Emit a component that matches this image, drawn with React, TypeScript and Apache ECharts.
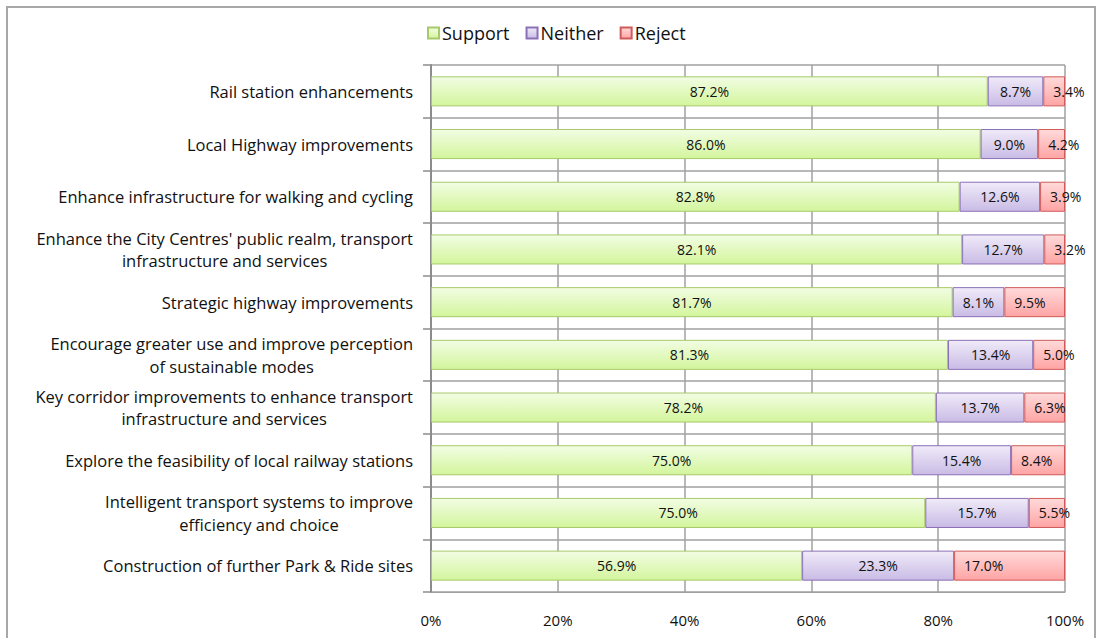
import React, { useEffect, useRef } from "react";
import * as echarts from "echarts";

const categories = [
  "Rail station enhancements",
  "Local Highway improvements",
  "Enhance infrastructure for walking and cycling",
  "Enhance the City Centres' public realm, transport\ninfrastructure and services",
  "Strategic highway improvements",
  "Encourage greater use and improve perception\nof sustainable modes",
  "Key corridor improvements to enhance transport\ninfrastructure and services",
  "Explore the feasibility of local railway stations",
  "Intelligent transport systems to improve\nefficiency and choice",
  "Construction of further Park & Ride sites",
];
const support = [87.2, 86.0, 82.8, 82.1, 81.7, 81.3, 78.2, 75.0, 75.0, 56.9];
const neither = [8.7, 9.0, 12.6, 12.7, 8.1, 13.4, 13.7, 15.4, 15.7, 23.3];
const reject = [3.4, 4.2, 3.9, 3.2, 9.5, 5.0, 6.3, 8.4, 5.5, 17.0];
const xTicks = [0, 20, 40, 60, 80, 100];

const FONT = "'Open Sans', sans-serif";

function grad(top: string, bottom: string) {
  return new echarts.graphic.LinearGradient(0, 0, 0, 1, [
    { offset: 0, color: top },
    { offset: 1, color: bottom },
  ]);
}

export default function App() {
  const ref = useRef<HTMLDivElement>(null);
  useEffect(() => {
    document.body.style.margin = "0";
    if (!ref.current) return;
    const chart = echarts.init(ref.current, null, { renderer: "svg" });
    const totals = support.map((s, i) => s + neither[i] + reject[i]);
    const norm = (arr: number[]) =>
      arr.map((v, i) => ({ value: (v / totals[i]) * 100, raw: v }));
    const labelFmt = (p: any) => p.data.raw.toFixed(1) + "%";
    const baseLabel = {
      show: true,
      formatter: labelFmt,
      fontFamily: FONT,
      fontSize: 14,
      color: "#111111",
    };
    const mkSeries = (
      name: string,
      arr: number[],
      top: string,
      bottom: string,
      border: string,
      label: any
    ) => ({
      name,
      type: "bar",
      stack: "total",
      barCategoryGap: "43%",
      data: norm(arr),
      itemStyle: { color: grad(top, bottom), borderColor: border, borderWidth: 1 },
      label,
    });
    chart.setOption({
      animation: false,
      backgroundColor: "#ffffff",
      graphic: [
        {
          type: "rect",
          shape: { x: 7, y: 7, width: 1088, height: 640 },
          style: { fill: "none", stroke: "#a8a8a8", lineWidth: 2 },
          silent: true,
        },
      ],
      legend: {
        top: 19,
        left: 422,
        itemWidth: 11,
        itemHeight: 11,
        itemGap: 16,
        icon: "rect",
        textStyle: { fontFamily: FONT, fontSize: 18, color: "#111111", padding: [0, 0, 0, -2] },
        data: ["Support", "Neither", "Reject"],
      },
      grid: { left: 431, right: 33, top: 65, bottom: 46, containLabel: false },
      xAxis: {
        type: "value",
        min: xTicks[0],
        max: xTicks[xTicks.length - 1],
        interval: xTicks[1] - xTicks[0],
        axisLabel: {
          formatter: "{value}%",
          fontFamily: FONT,
          fontSize: 15,
          color: "#111111",
          margin: 20,
        },
        axisLine: { show: true, lineStyle: { color: "#a0a0a0", width: 1 } },
        axisTick: { show: false },
        splitLine: { show: true, lineStyle: { color: "#a0a0a0", width: 1.5 } },
      },
      yAxis: {
        type: "category",
        inverse: true,
        data: categories,
        axisLine: { show: true, lineStyle: { color: "#8c8c8c", width: 2 } },
        axisTick: { show: true, length: 8, lineStyle: { color: "#8c8c8c", width: 1.5 } },
        splitLine: { show: true, lineStyle: { color: "#a0a0a0", width: 1.5 } },
        axisLabel: {
          margin: 18,
          fontFamily: FONT,
          fontSize: 16.5,
          color: "#111111",
          lineHeight: 22.5,
          formatter: (v: string) =>
            v
              .split("\n")
              .map((l) => "{c|" + l + "}")
              .join("\n"),
          rich: {
            c: {
              align: "center",
              fontFamily: FONT,
              fontSize: 16.5,
              color: "#111111",
              lineHeight: 22.5,
            },
          },
        },
      },
      series: [
        mkSeries("Support", support, "#f2fde4", "#d3f59c", "#a8c96a", {
          ...baseLabel,
          position: "inside",
        }),
        mkSeries("Neither", neither, "#f0ebf9", "#c9bbe5", "#8a70b6", {
          ...baseLabel,
          position: "inside",
        }),
        mkSeries("Reject", reject, "#ffdada", "#ffa4a4", "#d05a5a", {
          ...baseLabel,
          position: "insideLeft",
          distance: 10,
        }),
      ],
    });
    return () => chart.dispose();
  }, []);
  return <div ref={ref} style={{ width: 1098, height: 638 }} />;
}
